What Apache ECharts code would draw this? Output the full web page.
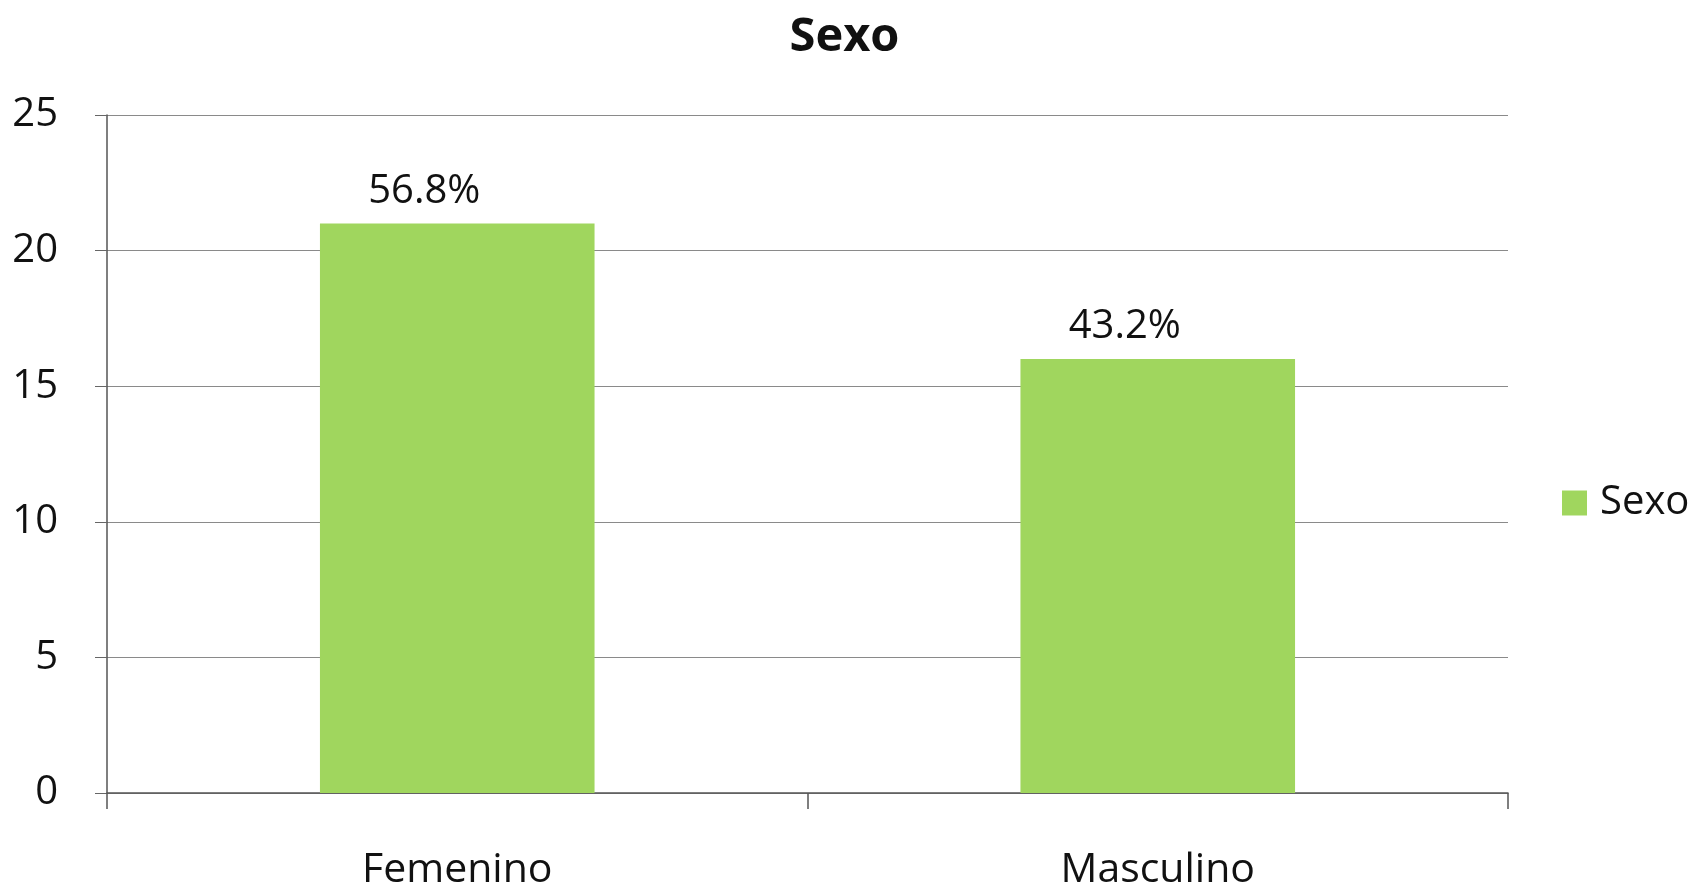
<!DOCTYPE html>
<html>
<head>
<meta charset="utf-8">
<script src="https://cdn.jsdelivr.net/npm/echarts@6/dist/echarts.min.js"></script>
<style>
html,body{margin:0;padding:0;background:#fff;}
#chart{width:1689px;height:887px;}
</style>
</head>
<body>
<div id="chart"></div>
<script>
var categories = ['Femenino', 'Masculino'];
var seriesValues = [21, 16];
var seriesLabels = ['56.8%', '43.2%'];
var yTicks = [0, 5, 10, 15, 20, 25];

var FONT = 'Open Sans';
var chart = echarts.init(document.getElementById('chart'));
chart.setOption({
  animation: false,
  backgroundColor: '#ffffff',
  title: {
    text: 'Sexo',
    left: 'center',
    top: 9,
    textStyle: { fontFamily: FONT, fontSize: 47, fontWeight: 'bold', color: '#111' }
  },
  legend: {
    data: ['Sexo'],
    orient: 'vertical',
    left: 1557,
    top: 478,
    itemWidth: 25,
    itemHeight: 25,
    icon: 'rect',
    textStyle: { fontFamily: FONT, fontSize: 40, color: '#111', padding: [0, 0, 0, 8] }
  },
  grid: { left: 107, right: 181, top: 115, bottom: 94, containLabel: false, outerBoundsMode: 'none' },
  xAxis: {
    type: 'category',
    data: categories,
    axisLine: { show: true, lineStyle: { color: '#555', width: 1.5 } },
    axisTick: { show: true, alignWithLabel: false, length: 16, lineStyle: { color: '#555', width: 1.5 } },
    axisLabel: { fontFamily: FONT, fontSize: 41, color: '#111', margin: 57 }
  },
  yAxis: {
    type: 'value',
    min: yTicks[0],
    max: yTicks[yTicks.length - 1],
    interval: yTicks[1] - yTicks[0],
    axisLine: { show: true, lineStyle: { color: '#555', width: 1.5 } },
    axisTick: { show: true, length: 12, lineStyle: { color: '#666' } },
    axisLabel: { fontFamily: FONT, fontSize: 40, color: '#111', margin: 49 },
    splitLine: { show: true, lineStyle: { color: '#8a8a8a', width: 1.2 } }
  },
  series: [{
    name: 'Sexo',
    type: 'bar',
    barWidth: '39.2%',
    data: seriesValues,
    itemStyle: { color: '#a0d65e' },
    label: {
      show: true,
      position: 'top',
      distance: 12,
      offset: [-33, 0],
      fontFamily: FONT,
      fontSize: 40,
      color: '#111',
      formatter: function (p) { return seriesLabels[p.dataIndex]; }
    }
  }]
});
</script>
</body>
</html>
